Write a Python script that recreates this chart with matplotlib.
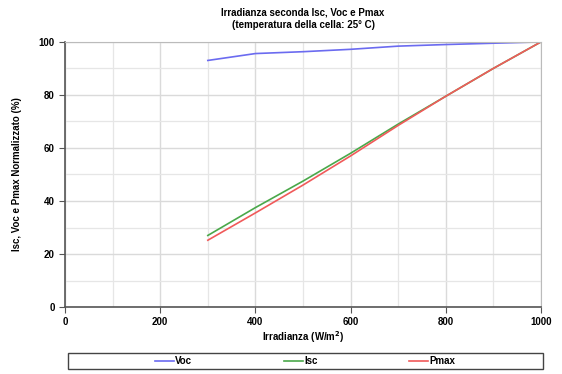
import matplotlib
matplotlib.use('Agg')
import matplotlib.pyplot as plt
from matplotlib.ticker import MultipleLocator
from matplotlib.patches import Rectangle

plt.rcParams['font.family'] = ['Liberation Sans', 'DejaVu Sans']
plt.rcParams['font.weight'] = 'bold'

irradianza = [300, 400, 500, 600, 700, 800, 900, 1000]
voc = [93.0, 95.6, 96.3, 97.2, 98.4, 99.0, 99.5, 100.0]
isc = [27.0, 37.5, 47.5, 58.0, 69.0, 79.5, 90.0, 100.0]
pmax = [25.2, 35.5, 46.0, 57.0, 68.5, 79.5, 90.0, 100.0]

fig = plt.figure(figsize=(5.62, 3.74), dpi=100)
ax = fig.add_axes([0.1157, 0.179, 0.8469, 0.709])

ax.plot(irradianza, voc, color='#6b6bf0', lw=1.2, label='Voc')
ax.plot(irradianza, isc, color='#4aa84a', lw=1.2, label='Isc')
ax.plot(irradianza, pmax, color='#f05a5a', lw=1.2, label='Pmax')

ax.set_xlim(0, 1000)
ax.set_ylim(0, 100)
ax.xaxis.set_major_locator(MultipleLocator(200))
ax.xaxis.set_minor_locator(MultipleLocator(100))
ax.yaxis.set_major_locator(MultipleLocator(20))
ax.yaxis.set_minor_locator(MultipleLocator(10))
ax.grid(True, which='major', color='#dadada', lw=1.0)
ax.grid(True, which='minor', color='#e6e6e6', lw=0.9)
ax.set_axisbelow(True)

for s in ['top', 'right']:
    ax.spines[s].set_color('#bbbbbb')
for s in ['left', 'bottom']:
    ax.spines[s].set_color('#555555')
    ax.spines[s].set_linewidth(1.2)
ax.tick_params(which='major', direction='out', length=4, color='#555555', labelsize=7)
ax.tick_params(which='minor', length=0)
ax.tick_params(axis='x', pad=3)

ax.set_title('Irradianza seconda Isc, Voc e Pmax\n(temperatura della cella: 25° C)',
             fontsize=7, fontweight='bold', pad=10, linespacing=1.3)
ax.set_xlabel('Irradianza (W/m$^2$)', fontsize=7, fontweight='bold', labelpad=2)
ax.set_ylabel('Isc, Voc e Pmax Normalizzato (%)', fontsize=7, fontweight='bold', labelpad=12)

# cornice della legenda
fig.add_artist(Rectangle((68 / 562, 5 / 374), 475 / 562, 16 / 374,
                         transform=fig.transFigure, fill=False,
                         edgecolor='#444444', lw=1.0))
leg = fig.legend(loc='center', bbox_to_anchor=(305 / 562, 13 / 374),
                 ncol=3, fontsize=7, frameon=False,
                 handlelength=2.0, handletextpad=0.1, columnspacing=9.4)

fig.savefig('out.png', dpi=100)
